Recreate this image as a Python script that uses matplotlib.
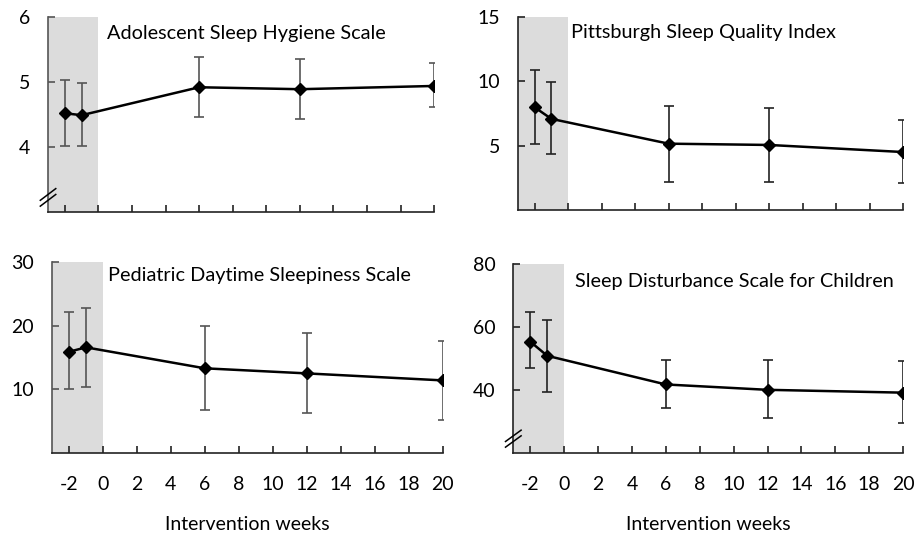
import numpy as np
import matplotlib
matplotlib.use("Agg")
import matplotlib.pyplot as plt

plt.rcParams['font.family'] = ['Lato', 'DejaVu Sans']
plt.rcParams['axes.unicode_minus'] = False

weeks = [-2, -1, 6, 12, 20]

# --- wartości: średnia, dolny i górny koniec słupka błędu ---
ashs_mean = [4.52, 4.49, 4.92, 4.89, 4.94]
ashs_low = [4.02, 4.02, 4.46, 4.43, 4.61]
ashs_high = [5.03, 4.99, 5.38, 5.35, 5.30]

psqi_mean = [7.98, 7.08, 5.15, 5.05, 4.50]
psqi_low = [5.15, 4.33, 2.15, 2.15, 2.10]
psqi_high = [10.85, 9.95, 8.10, 7.90, 7.00]

pdss_mean = [15.9, 16.6, 13.3, 12.5, 11.4]
pdss_low = [10.0, 10.4, 6.7, 6.3, 5.1]
pdss_high = [22.1, 22.8, 20.0, 18.8, 17.6]

sdsc_mean = [55.3, 50.8, 41.7, 40.0, 39.1]
sdsc_low = [46.8, 39.4, 34.3, 31.0, 29.4]
sdsc_high = [64.6, 62.1, 49.6, 49.6, 49.1]

titles = ["Adolescent Sleep Hygiene Scale", "Pittsburgh Sleep Quality Index",
          "Pediatric Daytime Sleepiness Scale", "Sleep Disturbance Scale for Children"]
ylims = [(3, 6), (0, 15), (0, 30), (20, 80)]
yticks = [[4, 5, 6], [5, 10, 15], [10, 20, 30], [40, 60, 80]]
xticks = list(range(-2, 21, 2))
xlabel = "Intervention weeks"

fig = plt.figure(figsize=(9.15, 5.34), dpi=100)

# [left, bottom, width, height]
pozycje = [
    [0.0525, 0.603, 0.422, 0.365],
    [0.566, 0.607, 0.421, 0.361],
    [0.0568, 0.152, 0.427, 0.357],
    [0.561, 0.152, 0.426, 0.354],
]
tekst_xy = [(0.153, 0.918), (0.138, 0.918), (0.143, 0.932), (0.159, 0.906)]
przerwa = [True, False, False, True]

serie = [
    (ashs_mean, ashs_low, ashs_high),
    (psqi_mean, psqi_low, psqi_high),
    (pdss_mean, pdss_low, pdss_high),
    (sdsc_mean, sdsc_low, sdsc_high),
]

for i in range(4):
    ax = fig.add_axes(pozycje[i])
    mean, low, high = [np.array(s) for s in serie[i]]

    ax.axvspan(-3, 0, color='#dcdcdc', lw=0, zorder=0)

    err_col = '#555555' if i in (0, 2) else '#222222'
    ax.errorbar(weeks, mean, yerr=[mean - low, high - mean], fmt='none',
                ecolor=err_col, elinewidth=1.2, capsize=3.5, capthick=1.2, zorder=2)
    ax.plot(weeks, mean, color='black', lw=1.8, marker='D', markersize=6.5, zorder=3)

    ax.set_xlim(-3, 20)
    ax.set_ylim(*ylims[i])
    ax.set_xticks(xticks)
    ax.set_yticks(yticks[i])

    for s in ['top', 'right']:
        ax.spines[s].set_visible(False)
    sp_col = '#555555' if i in (0, 2) else '#222222'
    ax.spines['left'].set_color(sp_col)
    ax.spines['bottom'].set_color('#222222')
    ax.spines['left'].set_linewidth(1.2)
    ax.spines['bottom'].set_linewidth(1.2)

    ax.tick_params(axis='y', direction='in', length=5, width=1.2, color=sp_col,
                   labelsize=14, pad=13)
    ax.tick_params(axis='x', direction='in', length=5, width=1.2, color='#222222',
                   labelsize=14, pad=17)
    if i < 2:
        ax.tick_params(axis='x', labelbottom=False)
    else:
        ax.set_xlabel(xlabel, fontsize=14, labelpad=16.5)

    ax.text(tekst_xy[i][0], tekst_xy[i][1], titles[i], transform=ax.transAxes,
            fontsize=14.3, ha='left', va='center')

    if przerwa[i]:
        # znaczek przerwy osi y
        for dy in (0.0, 0.03):
            ax.plot([-0.02, 0.02], [0.03 + dy, 0.09 + dy], transform=ax.transAxes,
                    color='black', lw=1.1, clip_on=False, zorder=5)

fig.savefig("out.png", dpi=100)
